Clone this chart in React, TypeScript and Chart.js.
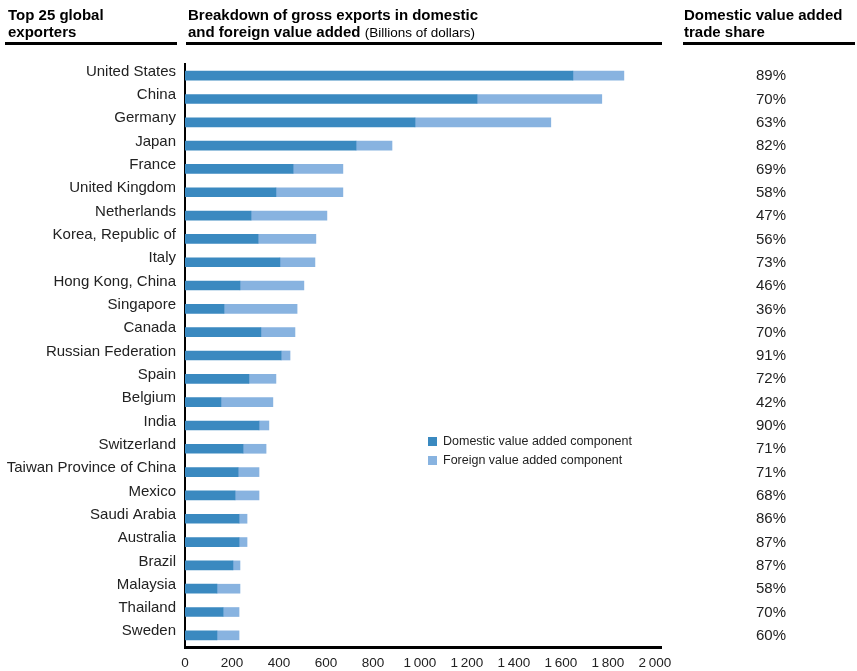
import React, { useEffect, useRef } from "react";
import { Chart, registerables } from "chart.js";

Chart.register(...registerables);

const countries = [
  "United States", "China", "Germany", "Japan", "France", "United Kingdom",
  "Netherlands", "Korea, Republic of", "Italy", "Hong Kong, China", "Singapore",
  "Canada", "Russian Federation", "Spain", "Belgium", "India", "Switzerland",
  "Taiwan Province of China", "Mexico", "Saudi Arabia", "Australia", "Brazil",
  "Malaysia", "Thailand", "Sweden",
];

const domestic = [
  1651, 1243, 979, 728, 460, 387, 281, 311, 404, 234, 166, 323, 409, 272, 153,
  315, 247, 226, 213, 230, 230, 204, 136, 162, 136,
];

const foreign = [
  217, 531, 578, 153, 212, 285, 323, 246, 149, 272, 311, 145, 38, 115, 221,
  42, 98, 89, 102, 34, 34, 30, 98, 68, 94,
];

const shareLabels = [
  "89%", "70%", "63%", "82%", "69%", "58%", "47%", "56%", "73%", "46%", "36%",
  "70%", "91%", "72%", "42%", "90%", "71%", "71%", "68%", "86%", "87%", "87%",
  "58%", "70%", "60%",
];

const xTickValues = [0, 200, 400, 600, 800, 1000, 1200, 1400, 1600, 1800, 2000];

const seriesNames = ["Domestic value added component", "Foreign value added component"];
const seriesColors = ["#3a89c0", "#88b3e0"];

const FONT = "'Liberation Sans', Arial, sans-serif";
const TEXT = "#222";

function fmt(v: number): string {
  if (v >= 1000) {
    const th = Math.floor(v / 1000);
    const rest = String(v % 1000).padStart(3, "0");
    return th + "\u2009" + rest;
  }
  return String(v);
}

const extrasPlugin = {
  id: "extras",
  afterDraw(chart: any) {
    const { ctx } = chart;
    const y = chart.scales.y;
    ctx.save();
    ctx.font = `15px ${FONT}`;
    ctx.fillStyle = TEXT;
    ctx.textAlign = "center";
    ctx.textBaseline = "middle";
    shareLabels.forEach((t, i) => {
      ctx.fillText(t, 771, y.getPixelForValue(i) + 0.5);
    });
    // legend
    ctx.font = `12.5px ${FONT}`;
    ctx.textAlign = "left";
    seriesNames.forEach((name, i) => {
      const top = 437 + i * 19;
      ctx.fillStyle = seriesColors[i];
      ctx.fillRect(428, top, 9, 9);
      ctx.fillStyle = TEXT;
      ctx.fillText(name, 443, top + 4.5);
    });
    ctx.restore();
  },
};

export default function App() {
  const ref = useRef<HTMLCanvasElement | null>(null);

  useEffect(() => {
    if (!ref.current) return;
    const chart = new Chart(ref.current, {
      type: "bar",
      data: {
        labels: countries,
        datasets: [
          {
            label: seriesNames[0],
            data: domestic,
            backgroundColor: seriesColors[0],
            barThickness: 9,
            borderWidth: 0,
          },
          {
            label: seriesNames[1],
            data: foreign,
            backgroundColor: seriesColors[1],
            barThickness: 9,
            borderWidth: 0,
          },
        ],
      },
      options: {
        indexAxis: "y",
        responsive: false,
        animation: false,
        layout: { padding: { left: 0, top: 64, right: 196, bottom: 0 } },
        plugins: {
          legend: { display: false },
          tooltip: { enabled: false },
        },
        scales: {
          x: {
            stacked: true,
            min: 0,
            max: 2026,
            afterBuildTicks: (s: any) => {
              s.ticks = xTickValues.map((v) => ({ value: v }));
            },
            afterFit: (s: any) => {
              s.height = 24;
            },
            grid: { display: false, drawTicks: false },
            border: { display: true, color: "#000", width: 3 },
            ticks: {
              padding: 8,
              color: TEXT,
              font: { family: FONT, size: 13.5 },
              maxRotation: 0,
              autoSkip: false,
              callback: (v: any) => fmt(Number(v)),
            },
          },
          y: {
            stacked: true,
            afterFit: (s: any) => {
              s.width = 185;
            },
            grid: { display: false, drawTicks: false },
            border: { display: true, color: "#000", width: 2 },
            ticks: {
              padding: 9,
              labelOffset: -4,
              color: TEXT,
              autoSkip: false,
              font: { family: FONT, size: 15 },
            },
          },
        },
      },
      plugins: [extrasPlugin],
    });
    return () => chart.destroy();
  }, []);

  const head: React.CSSProperties = {
    position: "absolute",
    top: 6,
    fontFamily: FONT,
    fontWeight: "bold",
    fontSize: 15,
    lineHeight: "17px",
    color: "#000",
    whiteSpace: "nowrap",
  };
  const rule: React.CSSProperties = {
    position: "absolute",
    top: 42,
    height: 3,
    background: "#000",
  };

  return (
    <div style={{ position: "absolute", left: 0, top: 0, width: 857, height: 671, background: "#fff" }}>
      <canvas ref={ref} width={857} height={671} style={{ position: "absolute", left: 0, top: 0, display: "block" }} />
      <div style={{ ...head, left: 8 }}>
        Top 25 global
        <br />
        exporters
      </div>
      <div style={{ ...head, left: 188 }}>
        Breakdown of gross exports in domestic
        <br />
        and foreign value added{" "}
        <span style={{ fontWeight: "normal", fontSize: 13.5 }}>(Billions of dollars)</span>
      </div>
      <div style={{ ...head, left: 684 }}>
        Domestic value added
        <br />
        trade share
      </div>
      <div style={{ ...rule, left: 5, width: 172 }} />
      <div style={{ ...rule, left: 186, width: 476 }} />
      <div style={{ ...rule, left: 683, width: 172 }} />
    </div>
  );
}
